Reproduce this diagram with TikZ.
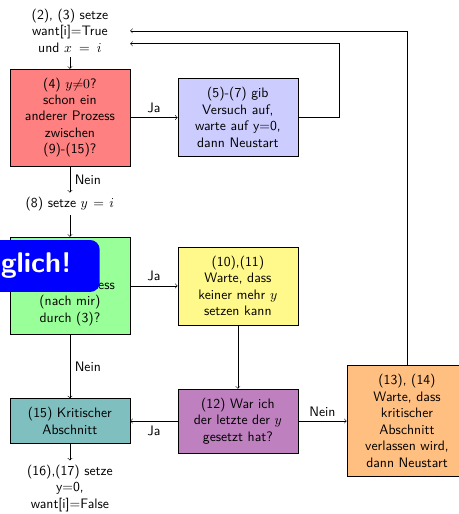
\documentclass[tikz,border=0pt]{standalone}
\usepackage{amsmath,amssymb}
\usepackage{tikz}
\usetikzlibrary{positioning}

\begin{document}
\begin{tikzpicture}[
  every node/.style={font=\sffamily},
  stepbox/.style={draw,align=center,text width=2.86cm,inner sep=3pt},
  note/.style={align=center,text width=2.86cm,inner sep=3pt},
  hint/.style={fill=blue,rounded corners=7pt,text=white,
    font=\sffamily\bfseries\huge,align=right,text width=3cm,
    inner xsep=0.72cm,minimum height=1.33cm}
]
  \useasboundingbox (0,0) rectangle (11.75,-13.16);

  \node[note] (init) at (1.79,-0.79)
    {(2), (3) setze\\want[i]=True\\und $x=i$};
  \node[stepbox,fill=red!50,minimum height=2.48cm] (check) at (1.79,-3.01)
    {(4) $y{\neq}0$?\\schon ein\\anderer Prozess\\zwischen\\(9)-(15)?};
  \node[stepbox,fill=blue!20,minimum height=2.0cm] (giveup) at (6.09,-3.01)
    {(5)-(7) gib\\Versuch auf,\\warte auf y=0,\\dann Neustart};
  \node[note] (sety) at (1.79,-5.22) {(8) setze $y=i$};
  \node[stepbox,fill=green!40,minimum height=2.5cm] (race) at (1.79,-7.32)
    {(9) $x{\neq}i$?\\schon ein\\anderer Prozess\\(nach mir)\\durch (3)?};
  \node[stepbox,fill=yellow!45,minimum height=2.0cm] (wait) at (6.09,-7.32)
    {(10),(11)\\Warte, dass\\keiner mehr $y$\\setzen kann};
  \node[stepbox,fill=violet!50,minimum height=1.64cm] (last) at (6.09,-10.78)
    {(12) War ich\\der letzte der $y$\\gesetzt hat?};
  \node[stepbox,fill=teal!50,minimum height=1.15cm] (crit) at (1.79,-10.78)
    {(15) Kritischer\\Abschnitt};
  \node[stepbox,fill=orange!50,minimum height=2.84cm] (restart) at (10.42,-10.78)
    {(13), (14)\\Warte, dass\\kritischer\\Abschnitt\\verlassen wird,\\dann Neustart};
  \node[note] (reset) at (1.79,-12.5)
    {(16),(17) setze\\y=0,\\want[i]=False};

  \draw[->] (init) -- (check);
  \draw[->] (check) -- node[above] {Ja} (giveup);
  \draw[->] (check) -- node[right] {Nein} (sety);
  \draw[->] (sety) -- (race);
  \draw[->] (race) -- node[above] {Ja} (wait);
  \draw[->] (race) -- node[right] {Nein} (crit);
  \draw[->] (wait) -- (last);
  \draw[->] (last) -- node[below] {Ja} (crit);
  \draw[->] (last) -- node[above] {Nein} (restart);
  \draw[->] (crit) -- (reset);
  % back to the start
  \draw[->] (giveup.east) -- ++(1.05,0) |- ([yshift=-3.3mm]init.east);
  \draw[->] (restart.north) |- (init.east);

  \node[hint,anchor=east] (stamp) at (2.56,-6.81) {glich!};
\end{tikzpicture}
\end{document}
